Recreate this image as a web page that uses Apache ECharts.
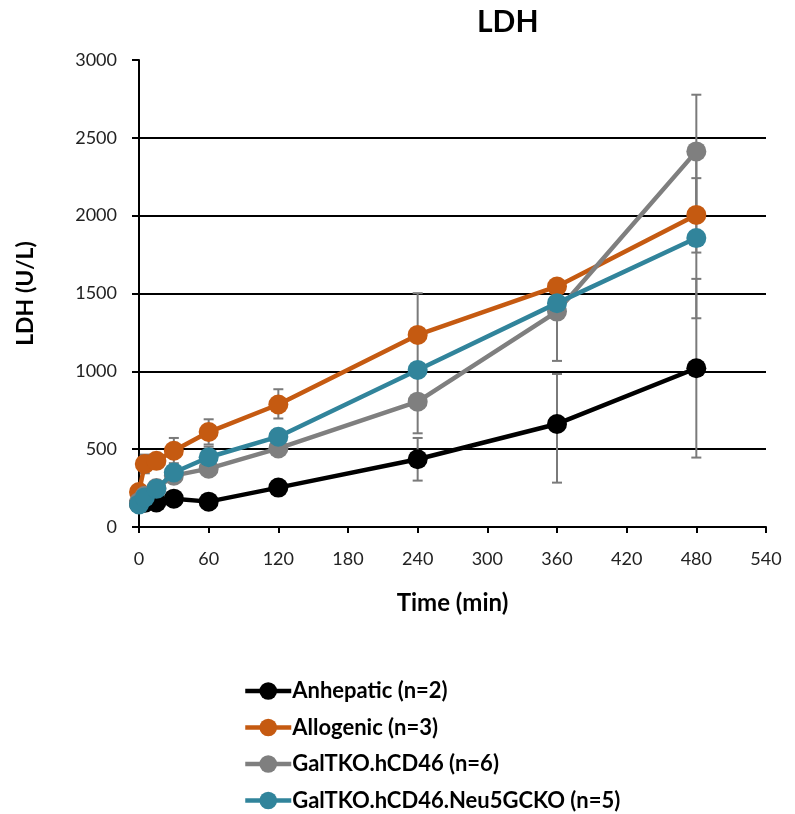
<!DOCTYPE html>
<html><head><meta charset="utf-8">
<script src="https://cdn.jsdelivr.net/npm/echarts@6/dist/echarts.min.js"></script>
<style>html,body{margin:0;padding:0;background:#fff}#c{width:795px;height:814px}</style>
</head><body><div id="c"></div>
<script>
const times = [0, 5, 15, 30, 60, 120, 240, 360, 480];
const seriesNames = ['Anhepatic (n=2)', 'Allogenic (n=3)', 'GalTKO.hCD46 (n=6)', 'GalTKO.hCD46.Neu5GCKO (n=5)'];
const anhepatic = [150, 155, 158, 182, 163, 253, 435, 662, 1020];
const allogenic = [225, 405, 425, 490, 610, 787, 1234, 1545, 2005];
const galtko = [160, 200, 250, 330, 375, 505, 805, 1384, 2413];
const neu5gcko = [145, 190, 245, 350, 448, 580, 1009, 1438, 1856];
// error bar extents below / above the mean (U/L)
const anhepaticErrLow = [0, 0, 0, 0, 0, 0, 137, 377, 574];
const anhepaticErrHigh = [0, 0, 0, 0, 0, 0, 137, 321, 574];
const allogenicErrLow = [0, 60, 30, 80, 80, 90, 268, 35, 242];
const allogenicErrHigh = [0, 60, 30, 82, 82, 98, 268, 35, 236];
const galtkoErrLow = [0, 0, 0, 25, 30, 40, 203, 317, 364];
const galtkoErrHigh = [0, 0, 0, 25, 30, 40, 203, 196, 364];
const neu5gckoErrLow = [0, 0, 0, 30, 68, 50, 40, 40, 515];
const neu5gckoErrHigh = [0, 0, 0, 30, 68, 50, 40, 40, 515];
const colors = ['#000000', '#C55A11', '#7F7F7F', '#31849B'];
const xTicks = {min: 0, max: 540, interval: 60};
const yTicks = {min: 0, max: 3000, interval: 500};

const vals = [anhepatic, allogenic, galtko, neu5gcko];
const lows = [anhepaticErrLow, allogenicErrLow, galtkoErrLow, neu5gckoErrLow];
const highs = [anhepaticErrHigh, allogenicErrHigh, galtkoErrHigh, neu5gckoErrHigh];

const font = 'Lato, "Open Sans", sans-serif';
const series = [];
vals.forEach((v, i) => {
  series.push({
    type: 'custom', name: seriesNames[i] + ' err', z: 1, silent: true,
    data: times.map((t, k) => [t, v[k] - lows[i][k], v[k] + highs[i][k]]).filter((d, k) => lows[i][k] + highs[i][k] > 0),
    renderItem: function (params, api) {
      const x = api.value(0);
      const p1 = api.coord([x, api.value(1)]);
      const p2 = api.coord([x, api.value(2)]);
      const w = 5;
      const st = {stroke: '#7a7a7a', lineWidth: 2};
      return {type: 'group', children: [
        {type: 'line', shape: {x1: p1[0], y1: p1[1], x2: p2[0], y2: p2[1]}, style: st},
        {type: 'line', shape: {x1: p1[0] - w, y1: p1[1], x2: p1[0] + w, y2: p1[1]}, style: st},
        {type: 'line', shape: {x1: p2[0] - w, y1: p2[1], x2: p2[0] + w, y2: p2[1]}, style: st}
      ]};
    }
  });
});
vals.forEach((v, i) => {
  series.push({
    type: 'line', name: seriesNames[i], z: 3 + i,
    data: times.map((t, k) => [t, v[k]]),
    symbol: 'circle', symbolSize: 20,
    lineStyle: {color: colors[i], width: 4.5},
    itemStyle: {color: colors[i]},
    emphasis: {disabled: true}
  });
});

const chart = echarts.init(document.getElementById('c'));
chart.setOption({
  animation: false,
  backgroundColor: '#fff',
  title: {text: 'LDH', left: 472, top: 2, textStyle: {fontFamily: font, fontSize: 30, fontWeight: 'bold', color: '#000'}},
  grid: {left: 139, right: 29, top: 60, bottom: 287},
  legend: {
    data: seriesNames, orient: 'vertical', left: 243, top: 680, itemGap: 14.5,
    padding: 0, height: 134,
    itemWidth: 46, itemHeight: 22,
    lineStyle: {width: 4.5},
    textStyle: {fontFamily: font, fontSize: 22, fontWeight: 'bold', color: '#000', padding: [0, 0, 0, -4]}
  },
  xAxis: {
    type: 'value', min: xTicks.min, max: xTicks.max, interval: xTicks.interval,
    name: 'Time (min)', nameLocation: 'middle', nameGap: 64,
    nameTextStyle: {fontFamily: font, fontSize: 24, fontWeight: 'bold', color: '#000'},
    axisLine: {lineStyle: {color: '#000', width: 2}},
    axisTick: {show: true, length: 6, lineStyle: {color: '#000', width: 2}},
    axisLabel: {fontFamily: font, fontSize: 18, color: '#222', margin: 23},
    splitLine: {show: false}
  },
  yAxis: {
    type: 'value', min: yTicks.min, max: yTicks.max, interval: yTicks.interval,
    name: 'LDH (U/L)', nameLocation: 'middle', nameGap: 102,
    nameTextStyle: {fontFamily: font, fontSize: 23, fontWeight: 'bold', color: '#000'},
    axisLine: {show: true, lineStyle: {color: '#000', width: 2}},
    axisTick: {show: true, length: 7, lineStyle: {color: '#000', width: 2}},
    axisLabel: {fontFamily: font, fontSize: 18, color: '#222', margin: 22, formatter: v => String(v)},
    splitLine: {show: true, showMinLine: false, showMaxLine: false, lineStyle: {color: '#000', width: 2}}
  },
  series: series
});
</script></body></html>
